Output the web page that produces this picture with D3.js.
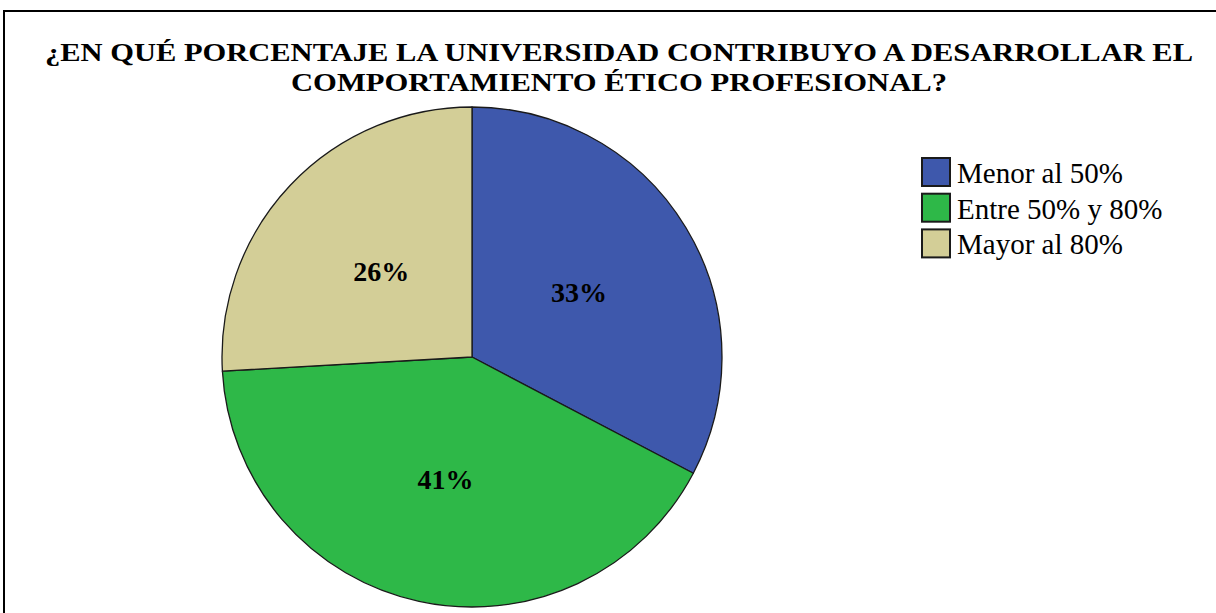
<!DOCTYPE html>
<html>
<head>
<meta charset="utf-8">
<script src="https://cdn.jsdelivr.net/npm/d3@7"></script>
<style>
  html, body { margin: 0; padding: 0; background: #fff; }
  svg { display: block; }
</style>
</head>
<body>
<div id="chart"></div>
<script>
// data
var categories = ["Menor al 50%", "Entre 50% y 80%", "Mayor al 80%"];
var shares = [32.7, 41.4, 25.9];
var colors = ["#3e58ac", "#2eb848", "#d3ce97"];
var titleLines = [
    "¿EN QUÉ PORCENTAJE LA UNIVERSIDAD CONTRIBUYO A DESARROLLAR EL",
    "COMPORTAMIENTO ÉTICO PROFESIONAL?"
];

var W = 1216, H = 613;
var cx = 472, cy = 357, radius = 250;

var svg = d3.select("#chart").append("svg")
    .attr("width", W)
    .attr("height", H);

// frame (only top and left edges fall inside the picture)
svg.append("path")
    .attr("d", "M4," + H + "V11H" + W)
    .attr("fill", "none")
    .attr("stroke", "#000")
    .attr("stroke-width", 2);

// title
var titleWidths = [1148, 656];
svg.selectAll("text.title")
    .data(titleLines)
    .enter()
    .append("text")
    .attr("class", "title")
    .attr("x", 619)
    .attr("y", function (d, i) { return 61 + i * 30; })
    .attr("text-anchor", "middle")
    .attr("textLength", function (d, i) { return titleWidths[i]; })
    .attr("lengthAdjust", "spacingAndGlyphs")
    .style("font-family", "'Liberation Serif', 'Times New Roman', serif")
    .style("font-weight", "bold")
    .style("font-size", "25px")
    .text(function (d) { return d; });

// pie
var pie = d3.pie().sort(null).value(function (d) { return d; });
var arc = d3.arc().innerRadius(0).outerRadius(radius);
var arcs = pie(shares);

var g = svg.append("g")
    .attr("transform", "translate(" + cx + "," + cy + ")");

g.selectAll("path")
    .data(arcs)
    .enter()
    .append("path")
    .attr("d", arc)
    .attr("fill", function (d, i) { return colors[i]; })
    .attr("stroke", "#1a1a1a")
    .attr("stroke-width", 1.3)
    .attr("stroke-linejoin", "round");

g.selectAll("text")
    .data(arcs)
    .enter()
    .append("text")
    .attr("transform", function (d) {
        var c = arc.centroid(d);
        return "translate(" + c[0] + "," + c[1] + ")";
    })
    .attr("text-anchor", "middle")
    .attr("dy", "0.35em")
    .style("font-family", "'Liberation Serif', 'Times New Roman', serif")
    .style("font-weight", "bold")
    .style("font-size", "28px")
    .text(function (d) { return Math.round(d.value) + "%"; });

// legend
var legend = svg.append("g")
    .attr("transform", "translate(922,158)");

var item = legend.selectAll("g")
    .data(categories)
    .enter()
    .append("g")
    .attr("transform", function (d, i) { return "translate(0," + (i * 35.7) + ")"; });

item.append("rect")
    .attr("width", 28)
    .attr("height", 28)
    .attr("fill", function (d, i) { return colors[i]; })
    .attr("stroke", "#1a1a1a")
    .attr("stroke-width", 2);

item.append("text")
    .attr("x", 35)
    .attr("y", 25)
    .style("font-family", "'Liberation Serif', 'Times New Roman', serif")
    .style("font-size", "29px")
    .text(function (d) { return d; });
</script>
</body>
</html>
